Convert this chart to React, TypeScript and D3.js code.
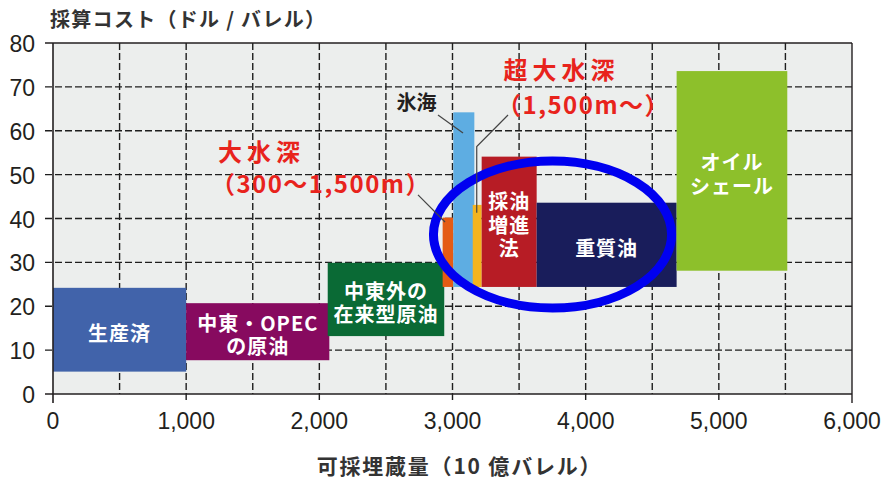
import React from 'react';
import * as d3 from 'd3';

// ---- data ----
const categories = ['生産済', '中東・OPECの原油', '中東外の在来型原油', '大水深', '氷海', '超大水深', '採油増進法', '重質油', 'オイルシェール'];
const xStart = [0, 1000, 2063, 2926, 3006, 3152, 3219, 3632, 4683];
const xEnd = [1000, 2075, 2938, 3006, 3164, 3219, 3632, 4683, 5514];
const costLow = [5.1, 7.7, 13.2, 24.4, 24.4, 24.4, 24.4, 24.4, 28.1];
const costHigh = [24.2, 20.7, 29.9, 40.2, 64.2, 43.1, 54.1, 43.6, 73.6];
const barColors = ['#4163aa', '#870a5f', '#0a6a35', '#e45b14', '#5eade2', '#f3b41f', '#b71c25', '#191d5b', '#8dc02b'];
const barLabels: string[][] = [['生産済'], ['中東・OPEC', 'の原油'], ['中東外の', '在来型原油'], [], [], [], ['採油', '増進', '法'], ['重質油'], ['オイル', 'シェール']];

const yTicks = [0, 10, 20, 30, 40, 50, 60, 70, 80];
const xTicks = [0, 1000, 2000, 3000, 4000, 5000, 6000];
const xTickLabels = ['0', '1,000', '2,000', '3,000', '4,000', '5,000', '6,000'];
const xGrid = [500, 1000, 1500, 2000, 2500, 3000, 3500, 4000, 4500, 5000, 5500];

const yTitle = '採算コスト（ドル / バレル）';
const xTitle = '可採埋蔵量（10 億バレル）';

// annotations (data coordinates)
const redNotes = [
  { text: '大水深', x: 1566, y: 55.6, spacing: 5 },
  { text: '（300〜1,500m）', x: 2012, y: 48.3, spacing: 1.5 },
  { text: '超大水深', x: 3818, y: 74.3, spacing: 5 },
  { text: '（1,500m〜）', x: 3984, y: 66.3, spacing: 1.5 },
];
const blackNotes = [{ text: '氷海', x: 2730, y: 66.6 }];
const leaders: [number, number][][] = [
  [[2891, 63.6], [3079, 59.5]],
  [[3417, 63.6], [3182, 56.4], [3182, 41.3]],
  [[2741, 45.4], [2944, 39.2]],
];
const ellipse = { cx: 3751, cy: 36.35, rx: 894, ry: 16.75 };

const W = 895;
const H = 484;
const JP = "'Noto Sans CJK JP', 'Noto Sans', sans-serif";
const LAT = "'Liberation Sans', Arial, 'Noto Sans CJK JP', sans-serif";

export default function App() {
  const x = d3.scaleLinear().domain([0, 6000]).range([53, 852]);
  const y = d3.scaleLinear().domain([0, 80]).range([394, 43]);
  const left = x(0);
  const right = x(6000);
  const top = y(80);
  const bottom = y(0);
  const line = d3.line<[number, number]>().x((d) => x(d[0])).y((d) => y(d[1]));
  const grid = '#1e1e1e';
  const axis = '#231f20';

  return (
    <svg width={W} height={H} style={{ position: 'absolute', left: 0, top: 0, background: '#fff' }}>
      <rect x={left} y={top} width={right - left} height={bottom - top} fill="#eceeed" />
      {/* horizontal grid */}
      {yTicks.filter((t) => t > 0 && t < 80).map((t) => (
        <line key={'h' + t} x1={left - 8} x2={right} y1={y(t)} y2={y(t)} stroke={grid} strokeWidth={1.4} strokeDasharray="7 3" />
      ))}
      {/* vertical grid */}
      {xGrid.map((t) => (
        <line key={'v' + t} x1={x(t)} x2={x(t)} y1={top} y2={t % 1000 === 0 ? bottom + 9 : bottom} stroke={grid} strokeWidth={1.4} strokeDasharray="7 3" />
      ))}
      {/* bars */}
      {categories.map((c, i) => (
        <rect key={c} x={x(xStart[i])} width={x(xEnd[i]) - x(xStart[i])} y={y(costHigh[i])} height={y(costLow[i]) - y(costHigh[i])} fill={barColors[i]} />
      ))}
      {/* bar labels */}
      {categories.map((c, i) => {
        const lines = barLabels[i];
        if (!lines.length) return null;
        const cx = (x(xStart[i]) + x(xEnd[i])) / 2;
        const cy = (y(costHigh[i]) + y(costLow[i])) / 2 + 2;
        const lh = 23.5;
        const y0 = cy - ((lines.length - 1) / 2) * lh;
        return (
          <text key={'l' + c} x={cx} y={y0} textAnchor="middle" dominantBaseline="central"
            fill="#fff" fontFamily={JP} fontWeight={700} fontSize={20} letterSpacing={1}>
            {lines.map((s, k) => (
              <tspan key={k} x={cx} y={y0 + k * lh}>{s}</tspan>
            ))}
          </text>
        );
      })}
      {/* ellipse */}
      <ellipse cx={x(ellipse.cx)} cy={y(ellipse.cy)} rx={x(ellipse.rx) - x(0)} ry={y(0) - y(ellipse.ry)} fill="none" stroke="#0000f0" strokeWidth={9} />
      {/* leader lines */}
      {leaders.map((p, i) => (
        <path key={'ld' + i} d={line(p) || ''} fill="none" stroke="#444" strokeWidth={1.2} />
      ))}
      {/* annotations */}
      {redNotes.map((n, i) => (
        <text key={'r' + i} x={x(n.x)} y={y(n.y)} textAnchor="middle" dominantBaseline="central" fill="#e8231c"
          fontFamily={JP} fontWeight={700} fontSize={24} letterSpacing={n.spacing}>{n.text}</text>
      ))}
      {blackNotes.map((n, i) => (
        <text key={'b' + i} x={x(n.x)} y={y(n.y)} textAnchor="middle" dominantBaseline="central" fill="#231f20"
          fontFamily={JP} fontWeight={700} fontSize={20}>{n.text}</text>
      ))}
      {/* axes / frame */}
      <line x1={left - 8} x2={right} y1={top} y2={top} stroke={axis} strokeWidth={1.6} />
      <line x1={left - 8} x2={right} y1={bottom} y2={bottom} stroke={axis} strokeWidth={1.6} />
      <line x1={left} x2={left} y1={top} y2={bottom + 9} stroke={axis} strokeWidth={1.6} />
      <line x1={right} x2={right} y1={top} y2={bottom + 9} stroke={axis} strokeWidth={1.4} />
      {/* y tick labels */}
      {yTicks.map((t) => (
        <text key={'yt' + t} x={35} y={y(t) + 1} textAnchor="end" dominantBaseline="central" fill={axis} fontFamily={LAT} fontSize={23}>{t}</text>
      ))}
      {/* x tick labels */}
      {xTicks.map((t, i) => (
        <text key={'xt' + t} x={x(t)} y={421} textAnchor="middle" dominantBaseline="central" fill={axis} fontFamily={LAT} fontSize={23}>{xTickLabels[i]}</text>
      ))}
      {/* titles */}
      <text x={50} y={18} dominantBaseline="central" fill="#333" fontFamily={JP} fontWeight={700} fontSize={20} letterSpacing={1.3}>{yTitle}</text>
      <text x={(left + right) / 2 + 7} y={465} textAnchor="middle" dominantBaseline="central" fill="#333" fontFamily={JP} fontWeight={700} fontSize={21} letterSpacing={1.8}>{xTitle}</text>
    </svg>
  );
}
